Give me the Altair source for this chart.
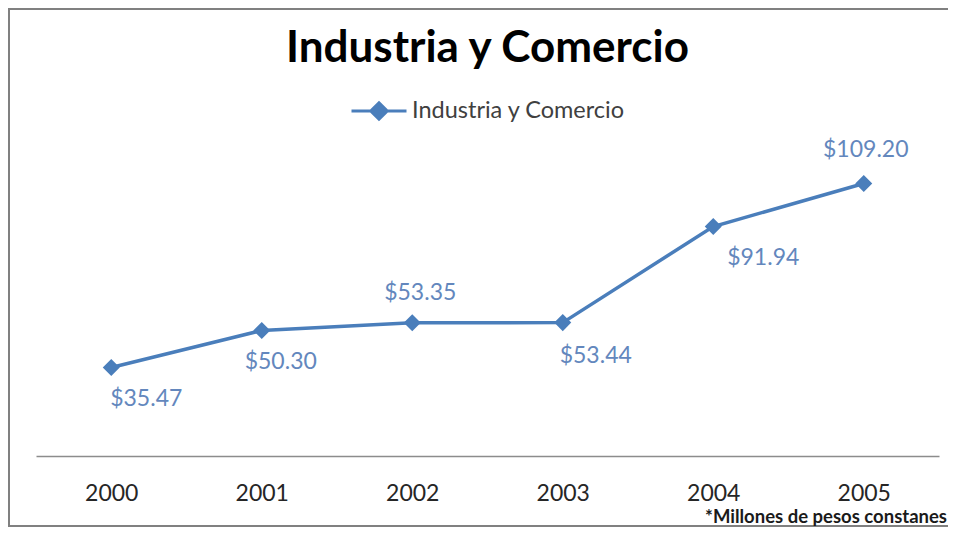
import altair as alt
import pandas as pd

# ---- data ----
years = ["2000", "2001", "2002", "2003", "2004", "2005"]
values = [35.47, 50.30, 53.35, 53.44, 91.94, 109.20]
labels = ["$35.47", "$50.30", "$53.35", "$53.44", "$91.94", "$109.20"]
series_name = "Industria y Comercio"
title_text = "Industria y Comercio"
footnote_text = "*Millones de pesos constanes"

df = pd.DataFrame({"year": years, "value": values, "label": labels,
                   "serie": [series_name] * len(years)})

# ---- style ----
BLUE = "#4a7ebb"
LABEL_BLUE = "#6387bd"
FONT = "Lato"
# label placement (dx, dy) relative to each point, mimicking the original layout
LABEL_OFFSETS = {"2000": (35, 32), "2001": (19, 32), "2002": (8, -30),
                 "2003": (33, 33), "2004": (50, 31), "2005": (2, -33)}

x = alt.X("year:O", scale=alt.Scale(type="point", padding=0.5),
          axis=alt.Axis(title=None, labelAngle=0, ticks=False, grid=False,
                        domainColor="#8c8c8c", domainWidth=1.5,
                        labelFont=FONT, labelFontSize=23, labelColor="#262626",
                        labelPadding=26, labelBaseline="top"))
y = alt.Y("value:Q", scale=alt.Scale(domain=[0, 120.2], nice=False), axis=None)

base = alt.Chart(df).encode(x=x, y=y)

legend = alt.Legend(
    title=None, orient="none", legendX=314, legendY=-74,
    symbolType="M-1,0H1M0,-0.3L0.3,0L0,0.3L-0.3,0Z",
    symbolSize=3025, symbolStrokeWidth=3,
    symbolFillColor=BLUE, symbolStrokeColor=BLUE, symbolOpacity=1,
    labelFont=FONT, labelFontSize=23.5, labelColor="#404040", labelOffset=4,
    labelLimit=500,
)
color = alt.Color("serie:N", scale=alt.Scale(range=[BLUE]), legend=legend)

line = base.mark_line(strokeWidth=3.5).encode(color=color)
points = base.mark_point(shape="diamond", filled=True, size=290, opacity=1).encode(color=color)

label_layers = []
for yr, (ddx, ddy) in LABEL_OFFSETS.items():
    label_layers.append(
        base.transform_filter(alt.datum.year == yr)
        .mark_text(dx=ddx, dy=ddy, align="center", baseline="middle",
                   font=FONT, fontSize=23, color=LABEL_BLUE)
        .encode(text="label:N"))

frame_df = pd.DataFrame({"k": [0]})
border = alt.Chart(frame_df).mark_rect(filled=False, stroke="#808080", strokeWidth=2).encode(
    x=alt.value(-27), x2=alt.value(960), y=alt.value(-147), y2=alt.value(370))

foot = alt.Chart(pd.DataFrame({"t": [footnote_text]})).mark_text(
    align="right", baseline="alphabetic", font=FONT, fontSize=18.5,
    fontWeight="bold", color="#1a1a1a").encode(
    text="t:N", x=alt.value(911), y=alt.value(367))

chart = alt.layer(border, line, points, *label_layers, foot).properties(
    width=903, height=300,
    padding={"left": 28, "top": 148, "right": 9, "bottom": 71},
    autosize=alt.AutoSizeParams(type="none"),
    title=alt.TitleParams(title_text, font=FONT, fontSize=44, fontWeight="bold",
                          color="#000000", anchor="middle", frame="group",
                          baseline="top", offset=-63),
).configure_view(stroke=None)

chart.save("out.html", embed_options={"renderer": "svg", "actions": False})
